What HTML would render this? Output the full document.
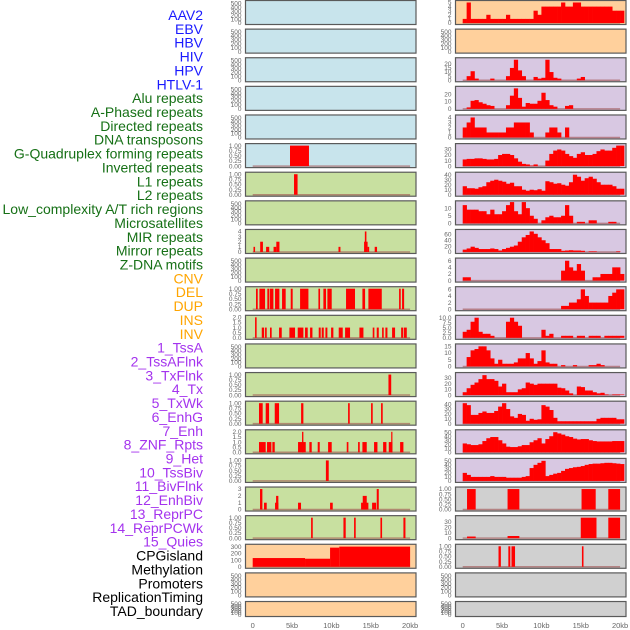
<!DOCTYPE html>
<html><head><meta charset="utf-8">
<style>
html,body{margin:0;padding:0;background:#fff;}
body{width:630px;height:630px;overflow:hidden;position:relative;font-family:"Liberation Sans",sans-serif;}
svg{position:absolute;left:0;top:0;}
</style></head>
<body>
<svg id="chart" width="630" height="630" viewBox="0 0 630 630" xmlns="http://www.w3.org/2000/svg"></svg>
<script>
// ---------- data ----------
const featureLabels = ["AAV2","EBV","HBV","HIV","HPV","HTLV-1","Alu repeats","A-Phased repeats","Directed repeats","DNA transposons","G-Quadruplex forming repeats","Inverted repeats","L1 repeats","L2 repeats","Low_complexity A/T rich regions","Microsatellites","MIR repeats","Mirror repeats","Z-DNA motifs","CNV","DEL","DUP","INS","INV","1_TssA","2_TssAFlnk","3_TxFlnk","4_Tx","5_TxWk","6_EnhG","7_Enh","8_ZNF_Rpts","9_Het","10_TssBiv","11_BivFlnk","12_EnhBiv","13_ReprPC","14_ReprPCWk","15_Quies","CPGisland","Methylation","Promoters","ReplicationTiming","TAD_boundary"];
const labelGroups = ["v","v","v","v","v","v","r","r","r","r","r","r","r","r","r","r","r","r","r","s","s","s","s","s","c","c","c","c","c","c","c","c","c","c","c","c","c","c","c","k","k","k","k","k"];
const xTickLabels = ["0","5kb","10kb","15kb","20kb"];
const xTickValues = [0,5,10,15,20];

// Right column histograms (0.5kb bins starting at 0)
const histR0 = [1,5,1,1,1,1,2,1,1,1,1,2,1,1,1,1,1,1,3,2,4,4,4,4,4,5,4,4,5,5,4,4,4,4,4,4,4,4,3,3,3];
const histR2 = [0,5,11,2,0,0,0,2,0,0,0,5,15,25,12,5,0,0,4,2,3,25,10,3,2,0,0,0,0,2,4,0,0,0,0,0,0,0,0,0,0];
const histR3 = [0,2,11,12,9,7,5,4,0,0,0,5,18,28,15,3,8,7,7,11,22,12,5,3,0,0,4,5,0,0,0,0,0,0,0,0,0,0,0,0,0];
const histR4 = [2,3,4,2,2,2,1,1,1,1,1,2,2,3,3,3,3,1,0,0,0,1,2,2,1,0,2,0,0,0,0,0,0,0,0,0,0,0,0,0,0];
const histR5 = [12,13,13,14,14,13,12,12,13,20,22,22,20,14,8,4,3,1,3,0,0,10,22,28,30,28,22,18,15,22,25,20,20,22,27,30,28,28,33,37,37];
const histR6 = [17,13,13,12,15,17,25,28,30,28,26,22,24,17,17,10,8,10,9,11,8,27,25,22,23,20,18,25,40,36,28,33,36,32,25,20,20,20,17,12,12];
const histR7 = [12,9,9,9,8,8,6,9,6,6,8,12,14,8,6,14,10,5,3,0,2,4,5,4,4,5,12,5,0,1,1,0,2,2,0,0,0,1,1,0,0];
const histR8 = [8,12,18,14,10,10,10,12,10,5,10,14,18,22,35,50,58,70,62,50,40,30,10,10,10,4,5,6,5,5,4,0,2,2,0,0,0,0,0,2,0];
const histR9 = [1,1,0,0,0,0,0,0,0,0,0,0,0,0,0,0,0,0,0,0,0,0,0,0,0,3,6,4,3,5,3,0,0,1,1,2,2,2,4,4,2];
const histR10 = [0,0,0,0,0,0,0,0,0,0,0,0,0,0,0,0,0,0,0,0,0,0,0,0,0,1,1,2,2,3,6,4,2,2,2,2,2,4,5,6,6];
const histR11 = [3,4,8,10,3,2,2,1,0,0,0,8,10,8,6,0,0,0,0,0,4,1,2,0,0,1,1,1,0,1,1,0,1,1,1,0,1,1,1,1,1];
const histR12 = [0,7,12,13,15,15,12,6,2,5,2,2,2,3,6,6,10,6,2,4,12,3,2,2,0,1,0,0,1,0,0,0,1,1,2,1,0,0,0,0,0];
const histR13 = [5,12,18,22,28,35,28,28,25,15,20,5,5,5,10,12,22,20,18,20,20,20,20,20,13,12,8,3,0,15,14,8,8,5,3,4,1,0,1,1,1];
const histR14 = [42,38,18,18,22,25,22,22,26,35,42,30,15,12,20,18,6,10,8,9,38,35,28,12,5,5,5,5,5,5,5,5,5,5,10,12,12,12,12,9,9];
const histR15 = [22,20,18,18,20,28,35,38,38,30,22,14,13,13,15,18,18,25,30,35,22,33,40,50,47,44,40,38,34,32,33,33,30,28,27,27,27,27,28,28,28];
const histR16 = [20,15,10,10,10,10,10,12,10,10,10,8,8,8,8,10,12,32,40,45,50,12,15,18,20,25,30,32,34,35,37,40,42,43,43,44,45,45,44,43,42];

// Right column intervals [startKb, endKb, value]
const segR17 = [[0.55,1.65,1],[5.7,7.2,1],[15.1,16.9,1],[18.5,20.0,1]];
const segR18 = [[0.55,1.65,3],[5.7,7.2,4],[15.0,17.0,38],[18.5,20.0,38]];
const segR19 = [[4.55,4.85,1],[5.8,6.05,1],[6.2,6.65,1],[15.15,15.35,1]];

// Left column intervals [startKb, endKb, value]
const segL5 = [[4.74,7.15,1]];
const segL6 = [[5.25,5.7,1]];
const segL8 = [[0.1,0.3,1],[0.95,1.3,2],[1.7,2.1,1],[2.65,3.0,1],[3.0,3.4,2],[10.9,11.15,1],[14.15,14.6,2],[14.25,14.45,4],[14.6,14.8,1],[15.5,15.8,1]];
const segL10 = [[0.42,0.64,1],[0.85,1.57,1],[1.86,2.12,1],[2.2,2.63,1],[2.84,3.39,1],[3.73,4.19,1],[4.83,5.08,1],[6.02,7.08,1],[8.35,8.56,1],[8.98,9.32,1],[9.49,10.04,1],[11.86,13.0,1],[13.94,14.28,1],[14.7,16.4,1],[18.6,18.81,1],[18.98,19.24,1]];
const segL11 = [[0.3,0.5,2],[1.15,1.45,1],[1.57,1.78,1],[2.2,2.41,1],[3.35,3.69,1],[4.66,5.38,1],[5.72,6.44,1],[6.65,6.99,1],[7.29,7.59,1],[8.39,8.64,1],[8.77,9.03,1],[9.24,9.49,1],[9.96,10.25,1],[10.93,11.44,1],[11.74,12.37,1],[13.56,14.07,1],[15.25,15.46,1],[15.76,16.02,1],[16.44,16.65,1],[16.86,17.12,1],[17.71,18.09,1],[18.86,19.11,1],[19.2,19.58,1]];
const segL13 = [[17.25,17.6,1]];
const segL14 = [[0.8,1.27,1],[1.65,2.08,1],[2.8,3.35,1],[6.15,6.44,1],[12.12,12.33,1],[15.04,15.25,1],[16.31,16.52,1]];
const segL15 = [[0.8,1.65,1],[1.82,2.37,1],[2.5,2.8,1],[5.76,6.74,1],[6.27,6.44,2],[7.2,7.5,1],[8.26,8.52,1],[9.58,10.04,1],[11.95,12.16,1],[13.39,13.6,1],[13.94,14.49,1],[15.42,15.85,1],[16.57,16.99,1],[17.29,17.75,1],[17.6,17.75,2],[18.73,19.15,1]];
const segL16 = [[9.3,9.66,1]];
const segL17 = [[0.93,1.23,3],[1.44,1.78,1],[2.84,3.26,1],[2.97,3.26,2],[5.76,6.14,1],[9.83,10.17,1],[13.77,14.7,1],[13.98,14.49,2],[15.17,15.68,1],[15.76,16.02,3]];
const segL18 = [[7.42,7.63,1],[11.53,11.82,1],[12.88,13.09,1],[16.23,16.44,1],[19.15,19.41,1]];
const segL19 = [[0,6.65,130],[6.65,9.83,120],[9.83,11.0,285],[11.0,20.0,300]];

// ---------- drawing ----------
const svg = document.getElementById('chart');
const NS = 'http://www.w3.org/2000/svg';
function mk(tag, attrs){ const e=document.createElementNS(NS,tag); for(const k in attrs) e.setAttribute(k,attrs[k]); return e; }

const ROW_PITCH = 28.62;
const colLeft = {x0:245.5, x1:416, dataX0:252.7};
const colRight = {x0:455.5, x1:626, dataX0:462.7};
const PX_PER_KB = 7.87;
function xScale(col, kb){ return col.dataX0 + kb*PX_PER_KB; }
function rowTop(r){ return 0.5 + r*ROW_PITCH; }
function rowH(r){ return r===21 ? 15 : 24; }
function yScale(r, v, ymax){ const t=rowTop(r), h=rowH(r); const y0=t+h-1.5, y1=t+2; return y0 - (v/ymax)*(y0-y1); }

const BG = {blue:'#c8e4ec', green:'#c8e0a0', peach:'#ffd09c', lav:'#d8c8e2', gray:'#d0d0d0'};
const leftBg = r => r<=5?BG.blue:(r<=18?BG.green:BG.peach);
const rightBg = r => r<=1?BG.peach:(r<=16?BG.lav:BG.gray);

const emptyTicks = {ymax:520, ticks:[0,100,200,300,400,500], labels:['0','100','200','300','400','500']};
const unitTicks = {ymax:1.0, ticks:[0,0.25,0.5,0.75,1.0], labels:['0.00','0.25','0.50','0.75','1.00']};
const leftSpec = {
  5:{seg:segL5, ax:unitTicks}, 6:{seg:segL6, ax:unitTicks},
  8:{seg:segL8, ax:{ymax:4,ticks:[0,1,2,3,4],labels:['0','1','2','3','4']}},
  10:{seg:segL10, ax:unitTicks},
  11:{seg:segL11, ax:{ymax:2,ticks:[0,0.5,1,1.5,2],labels:['0.0','0.5','1.0','1.5','2.0']}},
  13:{seg:segL13, ax:unitTicks}, 14:{seg:segL14, ax:unitTicks},
  15:{seg:segL15, ax:{ymax:2,ticks:[0,0.5,1,1.5,2],labels:['0.0','0.5','1.0','1.5','2.0']}},
  16:{seg:segL16, ax:unitTicks},
  17:{seg:segL17, ax:{ymax:3,ticks:[0,1,2,3],labels:['0','1','2','3']}},
  18:{seg:segL18, ax:unitTicks},
  19:{seg:segL19, ax:{ymax:305,ticks:[0,100,200,300],labels:['0','100','200','300']}}
};
const rightSpec = {
  0:{hist:histR0, ax:{ymax:5,ticks:[0,1,2,3,4,5],labels:['0','1','2','3','4','5']}},
  2:{hist:histR2, ax:{ymax:25,ticks:[0,5,10,15,20],labels:['0','5','10','15','20']}},
  3:{hist:histR3, ax:{ymax:28,ticks:[0,10,20],labels:['0','10','20']}},
  4:{hist:histR4, ax:{ymax:4.1,ticks:[0,1,2,3,4],labels:['0','1','2','3','4']}},
  5:{hist:histR5, ax:{ymax:37,ticks:[0,10,20,30],labels:['0','10','20','30']}},
  6:{hist:histR6, ax:{ymax:41,ticks:[0,10,20,30,40],labels:['0','10','20','30','40']}},
  7:{hist:histR7, ax:{ymax:13.5,ticks:[0,5,10],labels:['0','5','10']}},
  8:{hist:histR8, ax:{ymax:70,ticks:[0,20,40,60],labels:['0','20','40','60']}},
  9:{hist:histR9, ax:{ymax:6.2,ticks:[0,2,4,6],labels:['0','2','4','6']}},
  10:{hist:histR10, ax:{ymax:6.2,ticks:[0,2,4,6],labels:['0','2','4','6']}},
  11:{hist:histR11, ax:{ymax:10.2,ticks:[0,2.5,5,7.5,10],labels:['0.0','2.5','5.0','7.5','10.0']}},
  12:{hist:histR12, ax:{ymax:15.3,ticks:[0,5,10,15],labels:['0','5','10','15']}},
  13:{hist:histR13, ax:{ymax:36,ticks:[0,10,20,30],labels:['0','10','20','30']}},
  14:{hist:histR14, ax:{ymax:42,ticks:[0,10,20,30,40],labels:['0','10','20','30','40']}},
  15:{hist:histR15, ax:{ymax:51,ticks:[0,10,20,30,40,50],labels:['0','10','20','30','40','50']}},
  16:{hist:histR16, ax:{ymax:51,ticks:[0,10,20,30,40,50],labels:['0','10','20','30','40','50']}},
  17:{seg:segR17, ax:unitTicks},
  18:{seg:segR18, ax:{ymax:38,ticks:[0,10,20,30],labels:['0','10','20','30']}},
  19:{seg:segR19, ax:unitTicks}
};

function drawPanel(col, r, bg, spec, side){
  const g = mk('g',{});
  
  
  const t=rowTop(r), h=rowH(r);
  const rect = mk('rect',{x:col.x0,y:t,width:col.x1-col.x0,height:h,fill:bg,stroke:'#5a5a5a','stroke-width':1.2});
  
  
  g.appendChild(rect);
  const ax = spec ? spec.ax : emptyTicks;
  // baseline band
  if(spec){
    const bl = mk('line',{x1:xScale(col,0),x2:xScale(col,20),y1:yScale(r,0,ax.ymax),y2:yScale(r,0,ax.ymax),stroke:'#a05050','stroke-opacity':0.6,'stroke-width':1.5});
    
    
    g.appendChild(bl);
  }
  // ticks
  ax.ticks.forEach((tv,i)=>{
    const y = yScale(r,tv,ax.ymax);
    const tx = mk('text',{x:col.x0-4,y:y+2.2,'font-size':6.5,fill:'#666','text-anchor':'end','font-family':'Liberation Sans, sans-serif'});
    tx.textContent = ax.labels[i];
    
    
    g.appendChild(tx);
  });
  if(spec && spec.hist){
    spec.hist.forEach((v,i)=>{
      if(v<=0) return;
      const xa=xScale(col,i*0.5), xb=xScale(col,(i+1)*0.5);
      const y=yScale(r,v,ax.ymax), y0=yScale(r,0,ax.ymax);
      const b = mk('rect',{x:xa,y:y,width:xb-xa+0.3,height:y0-y,fill:'#ff0000'});
      
      
      g.appendChild(b);
    });
  }
  if(spec && spec.seg){
    spec.seg.forEach(s=>{
      const xa=xScale(col,s[0]), xb=xScale(col,s[1]);
      const y=yScale(r,s[2],ax.ymax), y0=yScale(r,0,ax.ymax);
      const b = mk('rect',{x:xa,y:y,width:Math.max(1.2,xb-xa),height:y0-y,fill:'#ff0000'});
      
      
      g.appendChild(b);
    });
  }
  svg.appendChild(g);
}

for(let r=0;r<22;r++){
  drawPanel(colLeft, r, leftBg(r), leftSpec[r], 'left');
  drawPanel(colRight, r, rightBg(r), rightSpec[r], 'right');
}

// x axes
[colLeft,colRight].forEach((col,ci)=>{
  xTickValues.forEach((v,i)=>{
    const tx = mk('text',{x:xScale(col,v),y:628,'font-size':7.5,fill:'#666','text-anchor':'middle','font-family':'Liberation Sans, sans-serif'});
    tx.textContent = xTickLabels[i];
    
    
    svg.appendChild(tx);
  });
});

// feature labels
const groupColor = {v:'#1a1aff', r:'#167016', s:'#ffa500', c:'#a433ee', k:'#000000'};
featureLabels.forEach((lab,i)=>{
  const tx = mk('text',{x:203,y:15+i*13.86+5,'font-size':14,fill:groupColor[labelGroups[i]],'text-anchor':'end','font-family':'Liberation Sans, sans-serif'});
  tx.textContent = lab;
  
  
  svg.appendChild(tx);
});
</script>
</body></html>
